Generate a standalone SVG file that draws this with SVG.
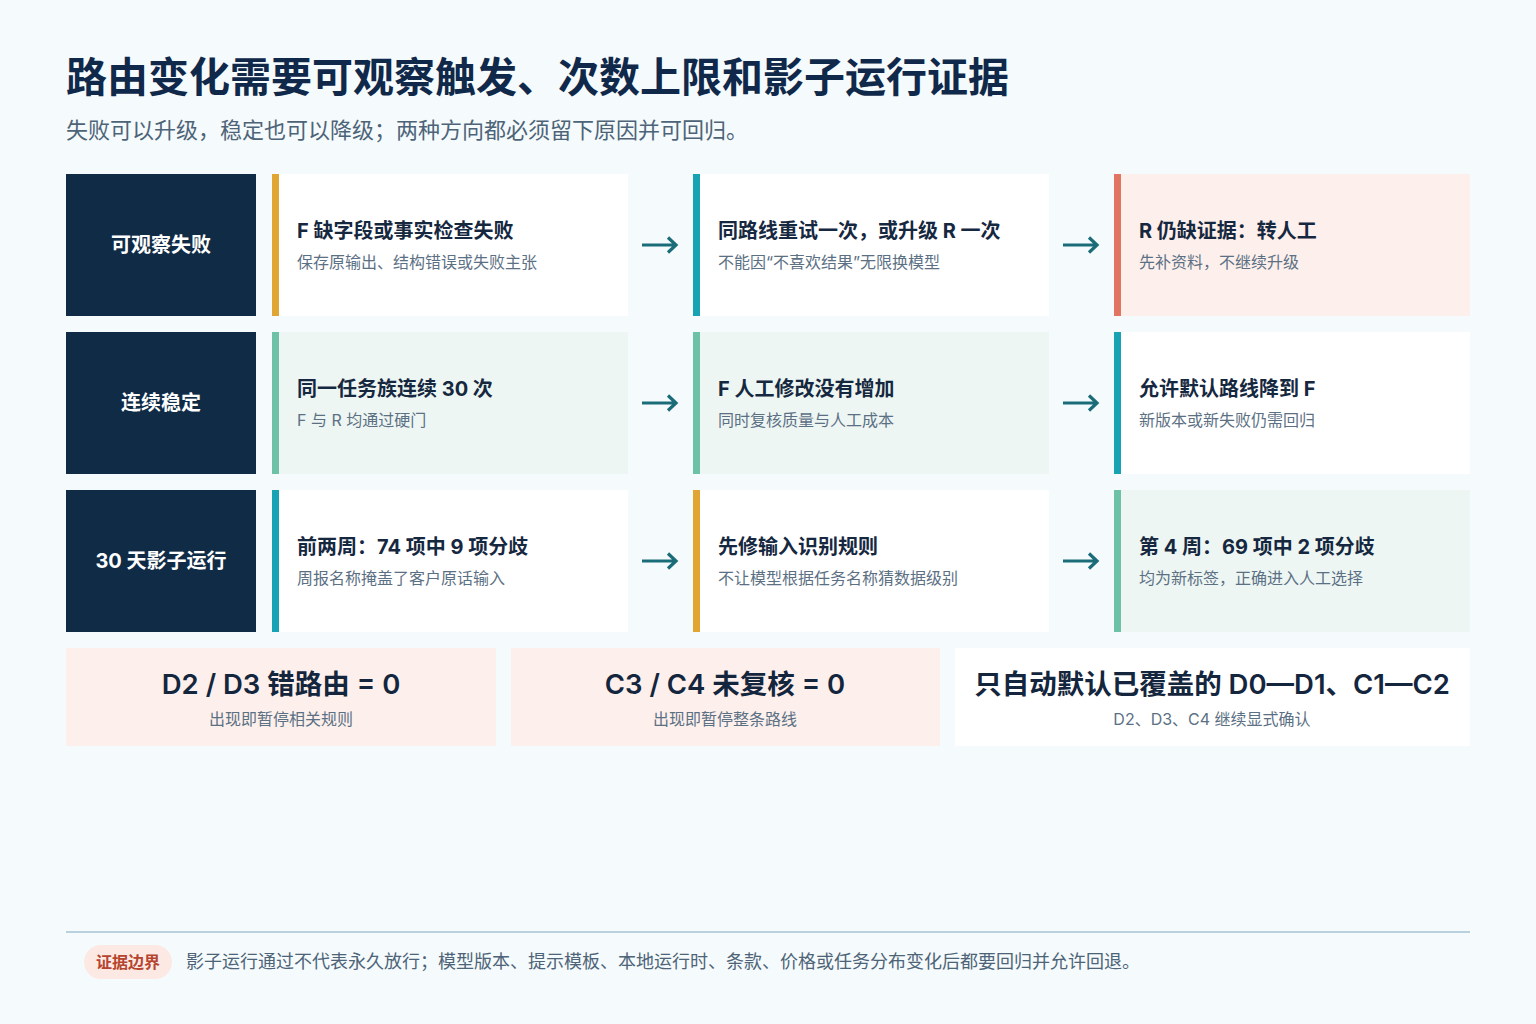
<svg xmlns="http://www.w3.org/2000/svg" width="1536" height="1024" viewBox="0 0 1536 1024">
<defs>
<style>
text{font-family:Inter,"Noto Sans CJK SC","Noto Sans",sans-serif}
.title{font-size:41px;font-weight:700;fill:#10294a}
.subtitle{font-size:22px;fill:#4d6478}
.lab{fill:#0f2b46}
.labt{font-size:20px;font-weight:700;fill:#ffffff;text-anchor:middle}
.ct{font-size:20px;font-weight:700;fill:#16283f}
.cs{font-size:16px;fill:#5c7084}
.white{fill:#ffffff}
.green{fill:#edf6f3}
.pink{fill:#fdf0ec}
.gold{fill:#e0a532}
.teal{fill:#17a3b3}
.salmon{fill:#e27462}
.mint{fill:#6cc1a6}
.bt{font-size:27.5px;font-weight:600;fill:#14263d;text-anchor:middle}
.bs{font-size:16px;fill:#5c7084;text-anchor:middle}
.arr{fill:none;stroke:#1b6c79;stroke-width:3.2;stroke-linecap:butt;stroke-linejoin:miter}
</style>
</defs>
<rect width="1536" height="1024" fill="#f5fafc"/>
<text class="title" x="66" y="92">路由变化需要可观察触发、次数上限和影子运行证据</text>
<text class="subtitle" x="66" y="138">失败可以升级，稳定也可以降级；两种方向都必须留下原因并可回归。</text>

<g id="row1-label"><rect class="lab" x="66" y="174" width="190" height="142"/><text class="labt" x="161" y="252">可观察失败</text></g>
<g id="row2-label"><rect class="lab" x="66" y="332" width="190" height="142"/><text class="labt" x="161" y="410">连续稳定</text></g>
<g id="row3-label"><rect class="lab" x="66" y="490" width="190" height="142"/><text class="labt" x="161" y="568">30 天影子运行</text></g>

<g id="r1c1"><rect class="white" x="272" y="174" width="356" height="142"/><rect class="gold" x="272" y="174" width="7" height="142"/><text class="ct" x="297" y="238">F 缺字段或事实检查失败</text><text class="cs" x="297" y="268">保存原输出、结构错误或失败主张</text></g>
<g id="r1c2"><rect class="white" x="693" y="174" width="356" height="142"/><rect class="teal" x="693" y="174" width="7" height="142"/><text class="ct" x="718" y="238">同路线重试一次，或升级 R 一次</text><text class="cs" x="718" y="268">不能因“不喜欢结果”无限换模型</text></g>
<g id="r1c3"><rect class="pink" x="1114" y="174" width="356" height="142"/><rect class="salmon" x="1114" y="174" width="7" height="142"/><text class="ct" x="1139" y="238">R 仍缺证据：转人工</text><text class="cs" x="1139" y="268">先补资料，不继续升级</text></g>

<g id="r2c1"><rect class="green" x="272" y="332" width="356" height="142"/><rect class="mint" x="272" y="332" width="7" height="142"/><text class="ct" x="297" y="396">同一任务族连续 30 次</text><text class="cs" x="297" y="426">F 与 R 均通过硬门</text></g>
<g id="r2c2"><rect class="green" x="693" y="332" width="356" height="142"/><rect class="mint" x="693" y="332" width="7" height="142"/><text class="ct" x="718" y="396">F 人工修改没有增加</text><text class="cs" x="718" y="426">同时复核质量与人工成本</text></g>
<g id="r2c3"><rect class="white" x="1114" y="332" width="356" height="142"/><rect class="teal" x="1114" y="332" width="7" height="142"/><text class="ct" x="1139" y="396">允许默认路线降到 F</text><text class="cs" x="1139" y="426">新版本或新失败仍需回归</text></g>

<g id="r3c1"><rect class="white" x="272" y="490" width="356" height="142"/><rect class="teal" x="272" y="490" width="7" height="142"/><text class="ct" x="297" y="554">前两周：74 项中 9 项分歧</text><text class="cs" x="297" y="584">周报名称掩盖了客户原话输入</text></g>
<g id="r3c2"><rect class="white" x="693" y="490" width="356" height="142"/><rect class="gold" x="693" y="490" width="7" height="142"/><text class="ct" x="718" y="554">先修输入识别规则</text><text class="cs" x="718" y="584">不让模型根据任务名称猜数据级别</text></g>
<g id="r3c3"><rect class="green" x="1114" y="490" width="356" height="142"/><rect class="mint" x="1114" y="490" width="7" height="142"/><text class="ct" x="1139" y="554">第 4 周：69 项中 2 项分歧</text><text class="cs" x="1139" y="584">均为新标签，正确进入人工选择</text></g>

<g id="connectors">
<path class="arr" d="M642 245H676M668 237.5L676 245L668 252.5"/>
<path class="arr" d="M1063 245H1097M1089 237.5L1097 245L1089 252.5"/>
<path class="arr" d="M642 403H676M668 395.5L676 403L668 410.5"/>
<path class="arr" d="M1063 403H1097M1089 395.5L1097 403L1089 410.5"/>
<path class="arr" d="M642 561H676M668 553.5L676 561L668 568.5"/>
<path class="arr" d="M1063 561H1097M1089 553.5L1097 561L1089 568.5"/>
</g>

<g id="b1"><rect class="pink" x="66" y="648" width="430" height="98"/><text class="bt" x="281" y="694">D2 / D3 错路由 = 0</text><text class="bs" x="281" y="725">出现即暂停相关规则</text></g>
<g id="b2"><rect class="pink" x="511" y="648" width="429" height="98"/><text class="bt" x="725" y="694">C3 / C4 未复核 = 0</text><text class="bs" x="725" y="725">出现即暂停整条路线</text></g>
<g id="b3"><rect class="white" x="955" y="648" width="515" height="98"/><text class="bt" x="1212" y="694">只自动默认已覆盖的 D0—D1、C1—C2</text><text class="bs" x="1212" y="725">D2、D3、C4 继续显式确认</text></g>

<rect x="66" y="931" width="1404" height="2" fill="#b9d1dd"/>
<g id="footer">
<rect x="84" y="945" width="88" height="34" rx="17" fill="#fde9e4"/>
<text x="128" y="968" font-size="16" font-weight="700" fill="#b5452f" text-anchor="middle">证据边界</text>
<text x="186" y="968" font-size="18" fill="#4d6478">影子运行通过不代表永久放行；模型版本、提示模板、本地运行时、条款、价格或任务分布变化后都要回归并允许回退。</text>
</g>
</svg>
